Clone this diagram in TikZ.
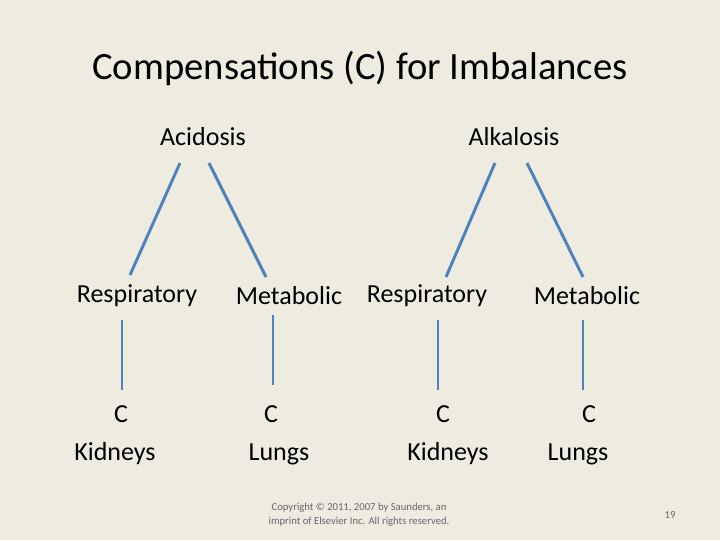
\documentclass[tikz,border=0pt]{standalone}
\usepackage{fontspec}
\setmainfont{Carlito}
\definecolor{bg}{HTML}{EEECE1}
\definecolor{ln}{HTML}{4F81BD}
\definecolor{tx}{HTML}{000000}
\begin{document}
\begin{tikzpicture}[x=0.75pt,y=-0.75pt,
  lbl/.style={font=\fontsize{19.5}{22}\selectfont,inner sep=0,anchor=center},
  con/.style={ln,line width=2.2pt}]
\fill[bg] (0,0) rectangle (720,540);
\useasboundingbox (0,0) rectangle (720,540);
\node[font=\fontsize{29}{34}\selectfont,inner sep=0] (t) at (360,68) {Compensations (C) for Imbalances};
\node[lbl] (ac) at (203,137) {Acidosis};
\node[lbl] (al) at (514,137) {Alkalosis};
\node[lbl] (r1) at (137,296) {Respiratory};
\node[lbl] (m1) at (289,296) {Metabolic};
\node[lbl] (r2) at (427,296) {Respiratory};
\node[lbl] (m2) at (587,296) {Metabolic};
\coordinate (a1) at (180,163); \coordinate (b1) at (130,275);
\coordinate (a2) at (209,163); \coordinate (b2) at (266,277);
\coordinate (a3) at (495,163); \coordinate (b3) at (446,277);
\coordinate (a4) at (527,163); \coordinate (b4) at (583,277);
\draw[con] (a1)--(b1); \draw[con] (a2)--(b2);
\draw[con] (a3)--(b3); \draw[con] (a4)--(b4);
\coordinate (v1) at (122,320); \coordinate (w1) at (122,390);
\coordinate (v2) at (273,315); \coordinate (w2) at (273,385);
\coordinate (v3) at (438,320); \coordinate (w3) at (438,390);
\coordinate (v4) at (583,320); \coordinate (w4) at (583,390);
\draw[con] (v1)--(w1); \draw[con] (v2)--(w2);
\draw[con] (v3)--(w3); \draw[con] (v4)--(w4);
\node[lbl] (c1) at (121,414) {C}; \node[lbl] (k1) at (115,454) {Kidneys};
\node[lbl] (c2) at (271,414) {C}; \node[lbl] (l1) at (279,454) {Lungs};
\node[lbl] (c3) at (443,414) {C}; \node[lbl] (k2) at (448,454) {Kidneys};
\node[lbl] (c4) at (589,414) {C}; \node[lbl] (l2) at (578,454) {Lungs};
\node[font=\fontsize{8}{10.5}\selectfont,text=black!60,align=center,inner sep=0] (cp) at (359,515) {Copyright © 2011, 2007 by Saunders, an\\imprint of Elsevier Inc. All rights reserved.};
\node[font=\fontsize{8}{10}\selectfont,text=black!60,inner sep=0] (pg) at (670,515) {19};
\end{tikzpicture}
\end{document}
